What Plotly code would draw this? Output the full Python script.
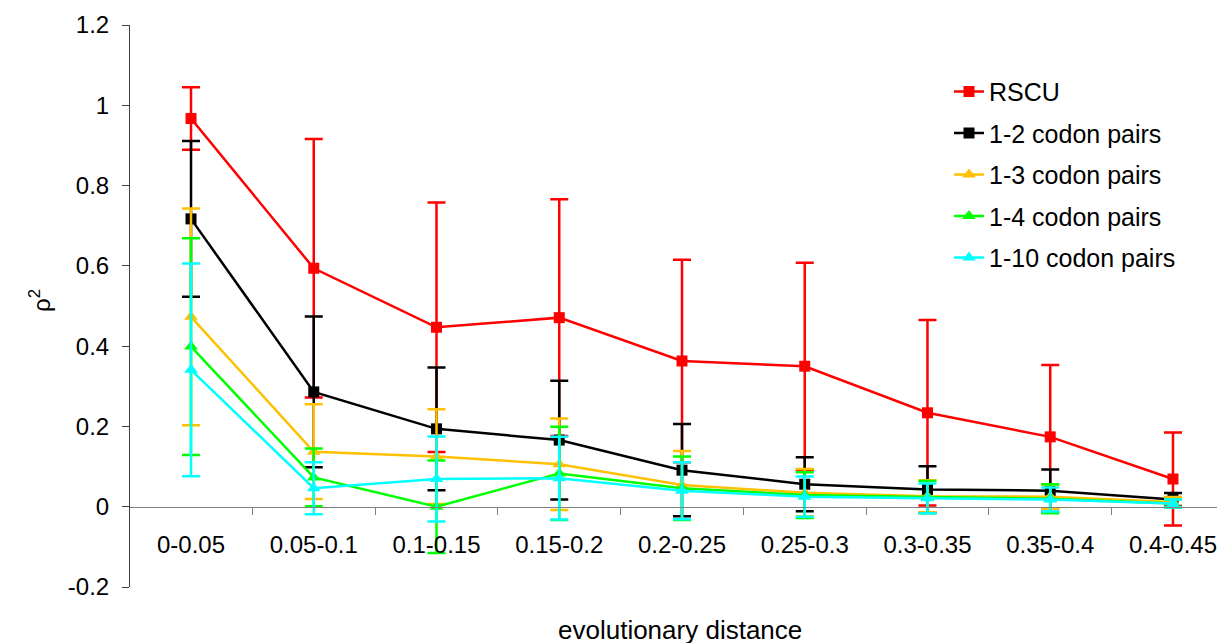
import plotly.graph_objects as go

categories = ["0-0.05", "0.05-0.1", "0.1-0.15", "0.15-0.2", "0.2-0.25",
              "0.25-0.3", "0.3-0.35", "0.35-0.4", "0.4-0.45"]

rscu = [0.967, 0.594, 0.447, 0.471, 0.363, 0.350, 0.234, 0.174, 0.069]
rscu_err = [0.078, 0.322, 0.311, 0.295, 0.252, 0.258, 0.231, 0.179, 0.116]

pairs_1_2 = [0.717, 0.286, 0.194, 0.166, 0.091, 0.056, 0.043, 0.040, 0.018]
pairs_1_2_err = [0.194, 0.188, 0.153, 0.148, 0.115, 0.067, 0.058, 0.053, 0.016]

pairs_1_3 = [0.473, 0.137, 0.125, 0.106, 0.054, 0.035, 0.026, 0.025, 0.012]
pairs_1_3_err = [0.270, 0.118, 0.118, 0.114, 0.085, 0.059, 0.040, 0.030, 0.012]

pairs_1_4 = [0.399, 0.073, 0.000, 0.083, 0.046, 0.029, 0.024, 0.020, 0.008]
pairs_1_4_err = [0.270, 0.072, 0.115, 0.116, 0.079, 0.057, 0.040, 0.036, 0.010]

pairs_1_10 = [0.341, 0.046, 0.069, 0.071, 0.040, 0.025, 0.021, 0.018, 0.008]
pairs_1_10_err = [0.265, 0.065, 0.106, 0.103, 0.071, 0.050, 0.037, 0.030, 0.010]

y_tickvals = [-0.2, 0, 0.2, 0.4, 0.6, 0.8, 1.0, 1.2]
y_ticktext = ["-0.2", "0", "0.2", "0.4", "0.6", "0.8", "1", "1.2"]

series = [
    ("RSCU", rscu, rscu_err, "#FF0000", "square", 11),
    ("1-2 codon pairs", pairs_1_2, pairs_1_2_err, "#000000", "square", 11),
    ("1-3 codon pairs", pairs_1_3, pairs_1_3_err, "#FFC000", "triangle-up", 12),
    ("1-4 codon pairs", pairs_1_4, pairs_1_4_err, "#00FF00", "triangle-up", 12),
    ("1-10 codon pairs", pairs_1_10, pairs_1_10_err, "#00FFFF", "triangle-up", 12),
]

FONT = "Arial, Liberation Sans, sans-serif"

# page has an 8px body margin; layout below compensates for it
L, T, PH = 122, 17, 562
W, H = 1225, 643
PW = W - L

fig = go.Figure()
for name, vals, errs, color, sym, size in series:
    fig.add_trace(go.Scatter(
        x=categories, y=vals, name=name, mode="lines+markers",
        legendgroup=name,
        line=dict(color=color, width=2.5),
        marker=dict(symbol=sym, size=size, color=color),
        error_y=dict(type="data", array=errs, visible=True,
                     color=color, thickness=2.5, width=9),
    ))

fig.update_layout(
    width=W, height=H,
    margin=dict(l=L, r=0, t=T, b=H - T - PH),
    paper_bgcolor="white", plot_bgcolor="white",
    font=dict(family=FONT, size=24, color="black"),
    showlegend=True,
    legend=dict(x=(941 - L) / PW, y=0.922, xanchor="left", yanchor="top",
                font=dict(size=25, family=FONT, color="black"),
                tracegroupgap=6, bgcolor="rgba(0,0,0,0)"),
    xaxis=dict(type="category", range=[-0.497, 8.489],
               anchor="free", position=0.2 / 1.4,
               showline=True, linecolor="#808080", linewidth=1,
               ticks="outside", ticklen=7, tickcolor="#808080",
               tickson="boundaries", showgrid=False, zeroline=False,
               ticklabelstandoff=16,
               tickfont=dict(size=24, family=FONT, color="black")),
    yaxis=dict(range=[-0.2, 1.2], tickvals=y_tickvals, ticktext=y_ticktext,
               showline=True, linecolor="#404040", linewidth=1,
               ticks="outside", ticklen=7, tickcolor="#404040",
               showgrid=False, zeroline=False, ticklabelstandoff=8,
               tickfont=dict(size=24, family=FONT, color="black")),
    annotations=[
        dict(text="evolutionary distance", xref="paper", yref="paper",
             x=(672 - L) / PW, y=(T + PH - 622) / PH,
             xanchor="center", yanchor="middle", showarrow=False,
             font=dict(size=26, family=FONT, color="black")),
        dict(text="ρ<sup>2</sup>", xref="paper", yref="paper",
             x=(32 - L) / PW, y=1 - (292 - T) / PH,
             xanchor="center", yanchor="middle", showarrow=False,
             textangle=-90,
             font=dict(size=24, family=FONT, color="black")),
    ],
)

fig.write_html("out.html")
